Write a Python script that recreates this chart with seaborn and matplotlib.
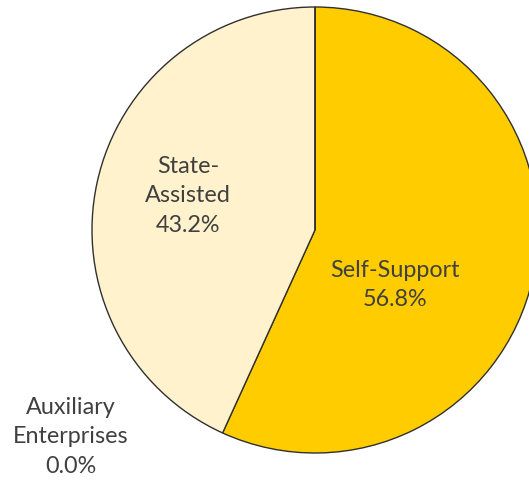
import matplotlib
matplotlib.use("Agg")
import matplotlib.pyplot as plt
import seaborn as sns

categories = ["Self-Support", "State-\nAssisted", "Auxiliary\nEnterprises"]
shares = [56.8, 43.2, 0.0]
colors = ["#FFCC00", "#FFF2CC", "#FFE699"]

sns.set_theme(style="white")
plt.rcParams["font.family"] = ["Lato", "DejaVu Sans"]

W, H = 529, 481
fig = plt.figure(figsize=(W / 100, H / 100), dpi=100)
ax = fig.add_axes([0, 0, 1, 1])

cx, cy, r = 315, H - 231, 223
ax.pie(shares, colors=colors, startangle=90, counterclock=False,
       center=(cx, cy), radius=r, frame=True,
       wedgeprops=dict(edgecolor="#303030", linewidth=1.0))
ax.set_xlim(0, W)
ax.set_ylim(0, H)
ax.set_aspect("equal")
ax.axis("off")

# label anchor points (image pixels, y measured from top)
label_pos = [(395, 285), (188, 196), (71, 437)]
for name, val, (x, y) in zip(categories, shares, label_pos):
    ax.text(x, H - y, f"{name}\n{val:.1f}%", ha="center", va="center",
            fontsize=16.8, color="#404040", linespacing=1.5)

fig.savefig("out.png", dpi=100)
